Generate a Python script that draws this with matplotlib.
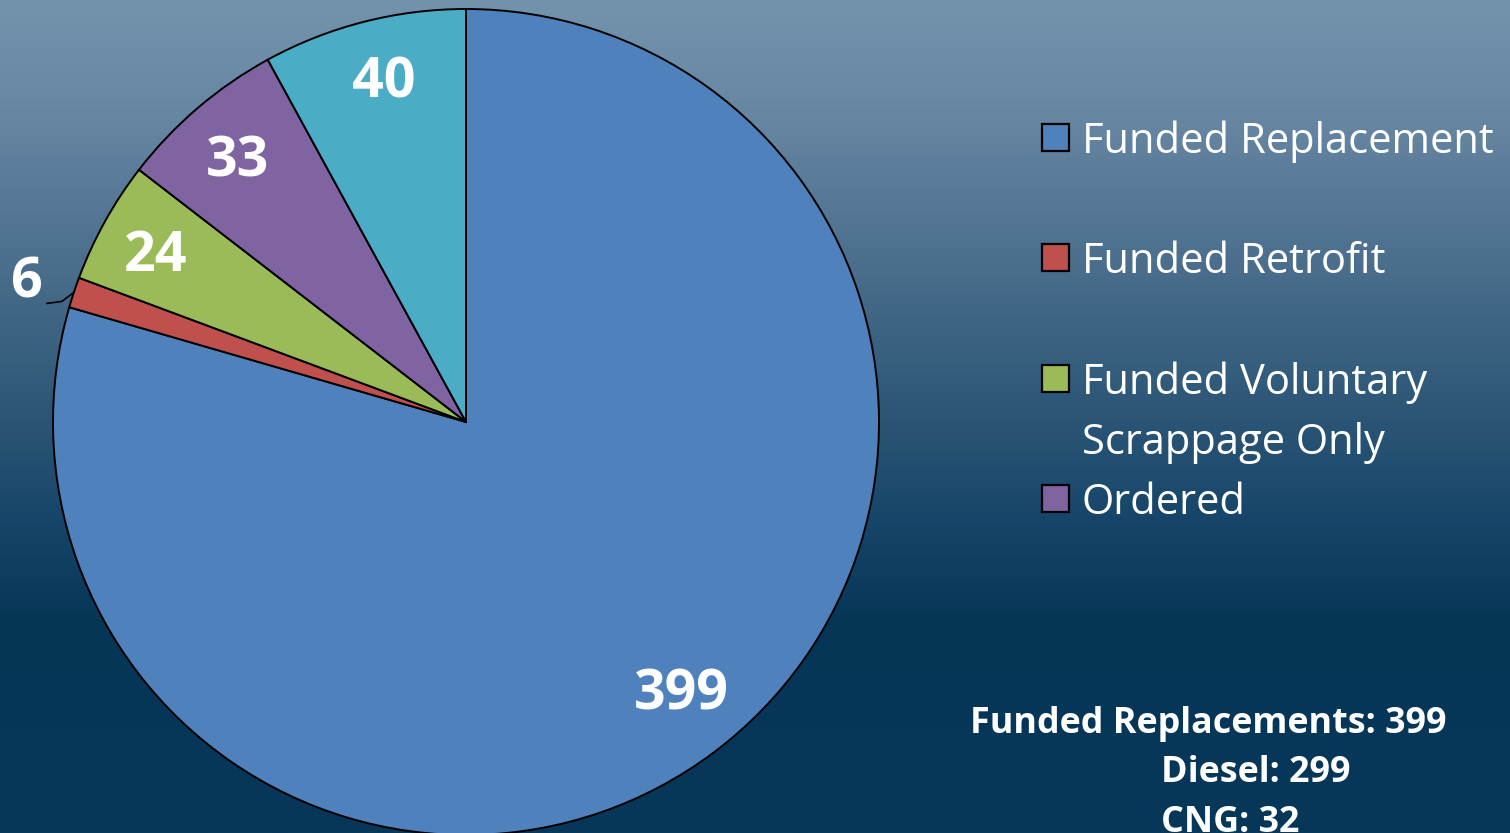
import numpy as np
import matplotlib
matplotlib.use("Agg")
import matplotlib.pyplot as plt
from matplotlib.colors import LinearSegmentedColormap
from matplotlib.patches import Rectangle

# ---- data ----
categories = ["Funded Replacement", "Funded Retrofit",
              "Funded Voluntary\nScrappage Only", "Ordered", "Shipped"]
values = [399, 6, 24, 33, 40]
colors = ["#4F81BD", "#C0504D", "#9BBB59", "#8064A2", "#4BACC6"]
legend_count = 4  # only four entries are visible in the reference
summary_lines = ["Funded Replacements: 399", "Diesel: 299", "CNG: 32"]

W, H = 1510, 833
fig = plt.figure(figsize=(W / 100, H / 100), dpi=100)

# background gradient
bg = fig.add_axes([0, 0, 1, 1], zorder=0)
bg.set_axis_off()
stops = [(0.0, "#7393ad"), (0.15, "#6585a1"), (0.32, "#4a6e8c"),
         (0.48, "#2f5878"), (0.62, "#17466a"), (0.75, "#063656"),
         (1.0, "#06385a")]
cmap = LinearSegmentedColormap.from_list("bg", stops)
grad = np.linspace(0, 1, 512).reshape(-1, 1)
bg.imshow(grad, aspect="auto", cmap=cmap, extent=[0, 1, 0, 1], origin="upper")
bg.set_xlim(0, 1)
bg.set_ylim(0, 1)

# pie axes in pixel coordinates
ax = fig.add_axes([0, 0, 1, 1], zorder=1)
cx, cy, R = 466, H - 422, 413
wedges, _ = ax.pie(values, colors=colors, startangle=90, counterclock=False,
                   center=(cx, cy), radius=R, frame=True,
                   wedgeprops=dict(edgecolor="black", linewidth=1.4))
for w in wedges:
    w.set_clip_on(False)
ax.set_xlim(0, W)
ax.set_ylim(0, H)
ax.set_aspect("equal")
ax.set_axis_off()

# data labels
label_frac = [0.83, 1.12, 0.86, 0.85, 0.86]
label_dang = [2.0, 0.0, 0.0, 0.0, -1.0]
for w, v, f, d in zip(wedges, values, label_frac, label_dang):
    mid = np.deg2rad((w.theta1 + w.theta2) / 2 + d)
    x = cx + R * f * np.cos(mid)
    y = cy + R * f * np.sin(mid)
    ax.text(x, y, str(v), ha="center", va="center_baseline", color="white",
            fontsize=40, fontweight="bold", family="Open Sans")
# leader line for the small slice
w = wedges[1]
mid = np.deg2rad((w.theta1 + w.theta2) / 2)
ex, ey = cx + R * np.cos(mid), cy + R * np.sin(mid)
ax.plot([ex, ex - 12, ex - 27], [ey, ey - 9, ey - 11], color="black", lw=1.2,
        clip_on=False)

# legend (manual)
leg_y = [137, 257, 378, 498]
for i in range(legend_count):
    yc = H - leg_y[i]
    ax.add_patch(Rectangle((1042, yc - 13.5), 27, 27, facecolor=colors[i],
                           edgecolor="black", lw=1.6, clip_on=False))
    lines = categories[i].split("\n")
    for k, line in enumerate(lines):
        ax.text(1082, yc - 60 * k, line, ha="left", va="center_baseline",
                color="white", fontsize=30, family="Open Sans")

# summary text
sx = [970, 1161, 1161]
sy = [719, 769, 818]
for t, x, y in zip(summary_lines, sx, sy):
    ax.text(x, H - y, t, ha="left", va="center_baseline", color="white",
            fontsize=25.8, fontweight="bold", family="Open Sans")

fig.savefig("out.png", dpi=100)
